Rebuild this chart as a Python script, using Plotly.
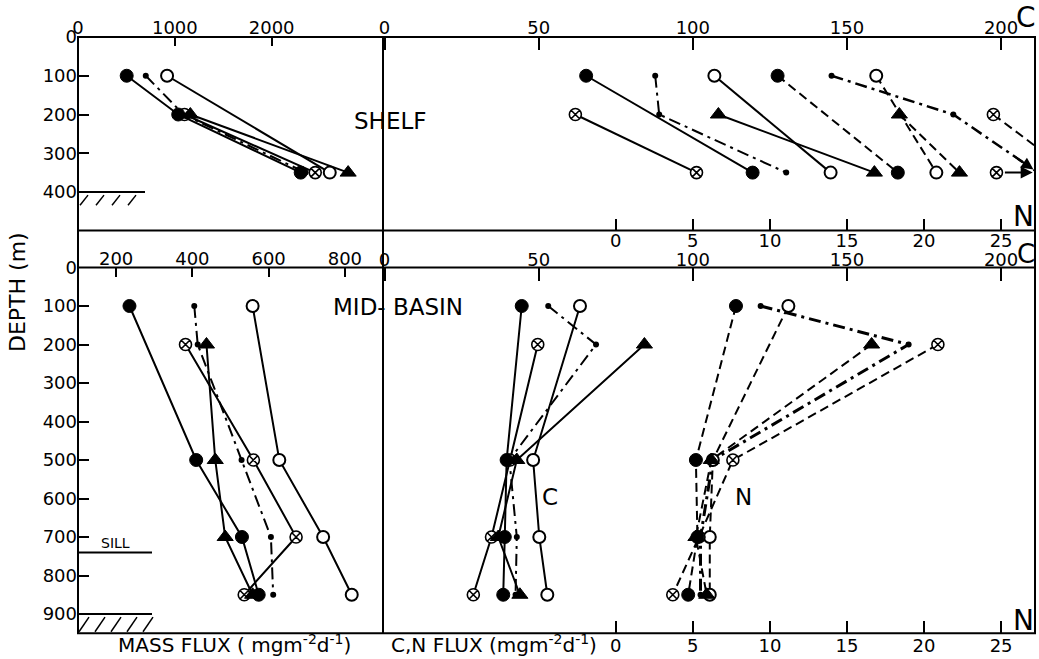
import plotly.graph_objects as go

W, H = 1039, 659

# ---------------- data ----------------
SHELF_DEPTH = [100, 200, 350]
BASIN_DEPTH = [100, 200, 500, 700, 850]

# Shelf mass flux (mg m-2 d-1)
SHELF_MASS_FILLED = [503, 1035, 2300]
SHELF_MASS_OPEN = [920, None, 2600]
SHELF_MASS_CROSS = [None, 1100, 2450]
SHELF_MASS_TRI = [None, 1160, 2790]
SHELF_MASS_DOT = [700, 1090, 2350]

# Shelf carbon flux
SHELF_C_FILLED = [65.4, None, 119.4]
SHELF_C_OPEN = [107.0, None, 144.7]
SHELF_C_CROSS = [None, 61.9, 101.2]
SHELF_C_TRI = [None, 108.3, 158.9]
SHELF_C_DOT = [87.8, 89.1, 130.3]

# Shelf nitrogen flux
SHELF_N_FILLED = [10.5, None, 18.3]
SHELF_N_OPEN = [16.9, None, 20.8]
SHELF_N_CROSS = [None, 24.5, 29.5]
SHELF_N_TRI = [None, 18.4, 22.3]
SHELF_N_DOT = [14.0, 21.9, 27.4]
SHELF_N_CROSS_OFFSCALE = [24.7]   # off-scale indicator at 350 m
SHELF_N_CROSS_OFFSCALE_DEPTH = [350]

# Mid-basin mass flux
BASIN_MASS_FILLED = [235, None, 410, 530, 574]
BASIN_MASS_OPEN = [558, None, 628, 743, 818]
BASIN_MASS_CROSS = [None, 382, 560, 672, 536]
BASIN_MASS_TRI = [None, 437, 460, 486, 558]
BASIN_MASS_DOT = [405, 414, 529, 606, 612]

# Mid-basin carbon flux
BASIN_C_FILLED = [44.5, None, 39.6, 39.0, 38.5]
BASIN_C_OPEN = [63.4, None, 48.2, 50.2, 52.8]
BASIN_C_CROSS = [None, 49.7, 40.7, 34.7, 28.8]
BASIN_C_TRI = [None, 84.3, 42.9, 36.9, 43.9]
BASIN_C_DOT = [53.1, 68.6, 40.5, 42.9, 42.5]

# Mid-basin nitrogen flux
BASIN_N_FILLED = [7.8, None, 5.2, 5.3, 4.7]
BASIN_N_OPEN = [11.2, None, 6.3, 6.1, 6.1]
BASIN_N_CROSS = [None, 20.9, 7.6, 5.4, 3.7]
BASIN_N_TRI = [None, 16.6, 6.2, 5.2, 5.9]
BASIN_N_DOT = [9.4, 19.0, 6.3, 5.5, 5.5]

SHELF_MASS_TICKS = [0, 1000, 2000]
BASIN_MASS_TICKS = [200, 400, 600, 800]
C_TICKS = [0, 50, 100, 150, 200]
N_TICKS = [0, 5, 10, 15, 20, 25]
SHELF_DEPTH_TICKS = [0, 100, 200, 300, 400]
BASIN_DEPTH_TICKS = [0, 100, 200, 300, 400, 500, 600, 700, 800, 900]

SHELF_FLOOR = 400
BASIN_FLOOR = 900
SILL_DEPTH = 740

# ---------------- geometry ----------------
LEFT, MID, RIGHT = 78, 383, 1035
TOP1, BOT1 = 37, 230.5
TOP2, BOT2 = 267.5, 633.3
C_RANGE = [-0.5, 211]
N_RANGE = [(C_RANGE[0] - 75) / 5, (C_RANGE[1] - 75) / 5]
FONT = "DejaVu Sans"


def px(x):
    return x / W


def py(y):
    return 1 - y / H


DASH = "9px,5px"
DASHDOT = "12px,5px,3px,5px"

STYLES = {
    "filled": dict(symbol="circle", size=13, color="black", line=dict(color="black", width=1)),
    "open": dict(symbol="circle", size=12, color="white", line=dict(color="black", width=2)),
    "cross": dict(symbol="circle-x", size=12, color="white", line=dict(color="black", width=1.6)),
    "tri": dict(symbol="triangle-up", size=14, color="black", line=dict(color="black", width=1)),
    "dot": dict(symbol="circle", size=6, color="black", line=dict(color="black", width=0)),
}

fig = go.Figure()


def add(xvals, depths, kind, dash, xa, ya, width=2):
    fig.add_trace(go.Scatter(
        x=xvals, y=depths, mode="lines+markers", xaxis=xa, yaxis=ya,
        connectgaps=True, showlegend=False, hoverinfo="skip",
        line=dict(color="black", width=width, dash=dash),
        marker=STYLES[kind], cliponaxis=True,
    ))


# Shelf mass
add(SHELF_MASS_DOT, SHELF_DEPTH, "dot", DASHDOT, "x", "y")
add(SHELF_MASS_OPEN, SHELF_DEPTH, "open", "solid", "x", "y")
add(SHELF_MASS_CROSS, SHELF_DEPTH, "cross", "solid", "x", "y")
add(SHELF_MASS_TRI, SHELF_DEPTH, "tri", "solid", "x", "y")
add(SHELF_MASS_FILLED, SHELF_DEPTH, "filled", "solid", "x", "y")

# Shelf C
add(SHELF_C_FILLED, SHELF_DEPTH, "filled", "solid", "x2", "y2")
add(SHELF_C_OPEN, SHELF_DEPTH, "open", "solid", "x2", "y2")
add(SHELF_C_CROSS, SHELF_DEPTH, "cross", "solid", "x2", "y2")
add(SHELF_C_TRI, SHELF_DEPTH, "tri", "solid", "x2", "y2")
add(SHELF_C_DOT, SHELF_DEPTH, "dot", DASHDOT, "x2", "y2")

# Shelf N
add(SHELF_N_FILLED, SHELF_DEPTH, "filled", DASH, "x3", "y2")
add(SHELF_N_OPEN, SHELF_DEPTH, "open", DASH, "x3", "y2")
add(SHELF_N_CROSS, SHELF_DEPTH, "cross", DASH, "x3", "y2")
add(SHELF_N_TRI, SHELF_DEPTH, "tri", DASH, "x3", "y2")
add(SHELF_N_DOT, SHELF_DEPTH, "dot", DASHDOT, "x3", "y2", width=2.5)
fig.add_trace(go.Scatter(
    x=SHELF_N_CROSS_OFFSCALE, y=SHELF_N_CROSS_OFFSCALE_DEPTH, mode="markers",
    xaxis="x3", yaxis="y2", showlegend=False, hoverinfo="skip", marker=STYLES["cross"]))

# Basin mass
add(BASIN_MASS_DOT, BASIN_DEPTH, "dot", DASHDOT, "x4", "y3")
add(BASIN_MASS_OPEN, BASIN_DEPTH, "open", "solid", "x4", "y3")
add(BASIN_MASS_CROSS, BASIN_DEPTH, "cross", "solid", "x4", "y3")
add(BASIN_MASS_TRI, BASIN_DEPTH, "tri", "solid", "x4", "y3")
add(BASIN_MASS_FILLED, BASIN_DEPTH, "filled", "solid", "x4", "y3")

# Basin C
add(BASIN_C_DOT, BASIN_DEPTH, "dot", DASHDOT, "x5", "y4")
add(BASIN_C_OPEN, BASIN_DEPTH, "open", "solid", "x5", "y4")
add(BASIN_C_CROSS, BASIN_DEPTH, "cross", "solid", "x5", "y4")
add(BASIN_C_TRI, BASIN_DEPTH, "tri", "solid", "x5", "y4")
add(BASIN_C_FILLED, BASIN_DEPTH, "filled", "solid", "x5", "y4")

# Basin N
add(BASIN_N_DOT, BASIN_DEPTH, "dot", DASHDOT, "x6", "y4", width=3)
add(BASIN_N_OPEN, BASIN_DEPTH, "open", DASH, "x6", "y4")
add(BASIN_N_CROSS, BASIN_DEPTH, "cross", DASH, "x6", "y4")
add(BASIN_N_TRI, BASIN_DEPTH, "tri", DASH, "x6", "y4")
add(BASIN_N_FILLED, BASIN_DEPTH, "filled", DASH, "x6", "y4")

# ---------------- axes ----------------
tick_common = dict(ticks="inside", tickwidth=2, tickcolor="black", showline=False,
                   showgrid=False, zeroline=False, automargin=False,
                   tickfont=dict(family=FONT, size=18, color="black"),
                   fixedrange=True)
hidden_y = dict(showticklabels=False, showgrid=False, zeroline=False, showline=False,
                automargin=False, fixedrange=True, ticks="")

shelf_depth_range = [(BOT1 - TOP1) / ((192 - TOP1) / 400), 0]
basin_depth_range = [(BOT2 - TOP2) / ((614 - TOP2) / 900), 0]

fig.update_layout(
    template="none",
    xaxis=dict(domain=[px(LEFT), px(MID)], anchor="y", side="top", range=[0, 3150],
               tickvals=SHELF_MASS_TICKS, ticklen=9, ticklabelstandoff=-2, **tick_common),
    yaxis=dict(domain=[py(BOT1), py(TOP1)], anchor="x", range=shelf_depth_range,
               tickvals=SHELF_DEPTH_TICKS, ticklen=11, **tick_common),
    xaxis2=dict(domain=[px(MID), px(RIGHT)], anchor="y2", side="top", range=C_RANGE,
                tickvals=C_TICKS, ticklen=13, ticklabelstandoff=-2, **tick_common),
    yaxis2=dict(domain=[py(BOT1), py(TOP1)], anchor="x2", range=shelf_depth_range, **hidden_y),
    xaxis3=dict(overlaying="x2", anchor="y2", side="bottom", range=N_RANGE,
                tickvals=N_TICKS, ticklen=12, ticklabelstandoff=-3, **tick_common),
    xaxis4=dict(domain=[px(LEFT), px(MID)], anchor="y3", side="top", range=[100, 900],
                tickvals=BASIN_MASS_TICKS, ticklen=9, ticklabelstandoff=-2, **tick_common),
    yaxis3=dict(domain=[py(BOT2), py(TOP2)], anchor="x4", range=basin_depth_range,
                tickvals=BASIN_DEPTH_TICKS, ticklen=11, **tick_common),
    xaxis5=dict(domain=[px(MID), px(RIGHT)], anchor="y4", side="top", range=C_RANGE,
                tickvals=C_TICKS, ticklen=13, ticklabelstandoff=-3, **tick_common),
    yaxis4=dict(domain=[py(BOT2), py(TOP2)], anchor="x5", range=basin_depth_range, **hidden_y),
    xaxis6=dict(overlaying="x5", anchor="y4", side="bottom", range=N_RANGE,
                tickvals=N_TICKS, ticklen=12, **tick_common),
)

# ---------------- frame & decorations ----------------
shapes = []
ln = dict(color="black", width=2)
shapes.append(dict(type="rect", xref="paper", yref="paper", x0=px(LEFT), x1=px(RIGHT),
                   y0=py(BOT2), y1=py(TOP1), line=ln))
for yy in (BOT1, TOP2):
    shapes.append(dict(type="line", xref="paper", yref="paper", x0=px(LEFT), x1=px(RIGHT),
                       y0=py(yy), y1=py(yy), line=ln))
shapes.append(dict(type="line", xref="paper", yref="paper", x0=px(MID), x1=px(MID),
                   y0=py(BOT2), y1=py(TOP1), line=ln))

# shelf floor with hatching
shapes.append(dict(type="line", xref="paper", yref="y", x0=px(LEFT), x1=px(145),
                   y0=SHELF_FLOOR, y1=SHELF_FLOOR, line=ln))
for i in range(4):
    shapes.append(dict(type="line", xref="paper", yref="y",
                       x0=px(80 + 16 * i), x1=px(88 + 16 * i),
                       y0=SHELF_FLOOR + 34, y1=SHELF_FLOOR + 8, line=dict(color="black", width=1.5)))
# basin floor with hatching
shapes.append(dict(type="line", xref="paper", yref="y3", x0=px(LEFT), x1=px(152),
                   y0=BASIN_FLOOR, y1=BASIN_FLOOR, line=ln))
for i in range(5):
    shapes.append(dict(type="line", xref="paper", yref="y3",
                       x0=px(79 + 16 * i), x1=px(89 + 16 * i),
                       y0=BASIN_FLOOR + 46, y1=BASIN_FLOOR + 8, line=dict(color="black", width=1.5)))
# sill
shapes.append(dict(type="line", xref="paper", yref="y3", x0=px(LEFT), x1=px(152),
                   y0=SILL_DEPTH, y1=SILL_DEPTH, line=ln))

fig.update_layout(shapes=shapes)


def txt(x, y, s, size, angle=0, xanchor="center"):
    return dict(x=px(x), y=py(y), xref="paper", yref="paper", text=s, showarrow=False,
                textangle=angle, xanchor=xanchor, yanchor="middle",
                font=dict(family=FONT, size=size, color="black"))


ann = [
    txt(18, 292, "DEPTH (m)", 22, angle=-90),
    txt(390, 121, "SHELF", 23),
    txt(398, 307, "MID- BASIN", 23),
    txt(550, 497, "C", 23),
    txt(743, 497, "N", 23),
    txt(115, 543, "SILL", 14),
    txt(234, 644, "MASS FLUX ( mgm<sup>-2</sup>d<sup>-1</sup>)", 20),
    txt(494, 644, "C,N FLUX (mgm<sup>-2</sup>d<sup>-1</sup>)", 20),
    txt(1026, 18, "C", 28),
    txt(1023, 216, "N", 28),
    txt(1026, 254, "C", 26),
    txt(1023, 620, "N", 28),
]

# off-scale arrows (shelf N)
ann.append(dict(x=N_RANGE[1] - 0.15, y=SHELF_N_CROSS_OFFSCALE_DEPTH[0], xref="x3", yref="y2",
                ax=SHELF_N_CROSS_OFFSCALE[0] + 0.45, ay=SHELF_N_CROSS_OFFSCALE_DEPTH[0],
                axref="x3", ayref="y2", text="", showarrow=True, arrowhead=2,
                arrowsize=1.2, arrowwidth=2, arrowcolor="black"))
slope = (SHELF_DEPTH[2] - SHELF_DEPTH[1]) / (SHELF_N_DOT[2] - SHELF_N_DOT[1])
hx = N_RANGE[1] - 0.1
tx = hx - 1.3
ann.append(dict(x=hx, y=SHELF_DEPTH[1] + (hx - SHELF_N_DOT[1]) * slope, xref="x3", yref="y2",
                ax=tx, ay=SHELF_DEPTH[1] + (tx - SHELF_N_DOT[1]) * slope,
                axref="x3", ayref="y2", text="", showarrow=True, arrowhead=2,
                arrowsize=1.2, arrowwidth=2, arrowcolor="black"))

fig.update_layout(
    annotations=ann,
    width=W, height=H, autosize=False,
    margin=dict(l=0, r=0, t=0, b=0, pad=0),
    paper_bgcolor="white", plot_bgcolor="white",
    font=dict(family=FONT, size=18, color="black"),
    showlegend=False,
)

fig.write_html("out.html", config={"displayModeBar": False})
